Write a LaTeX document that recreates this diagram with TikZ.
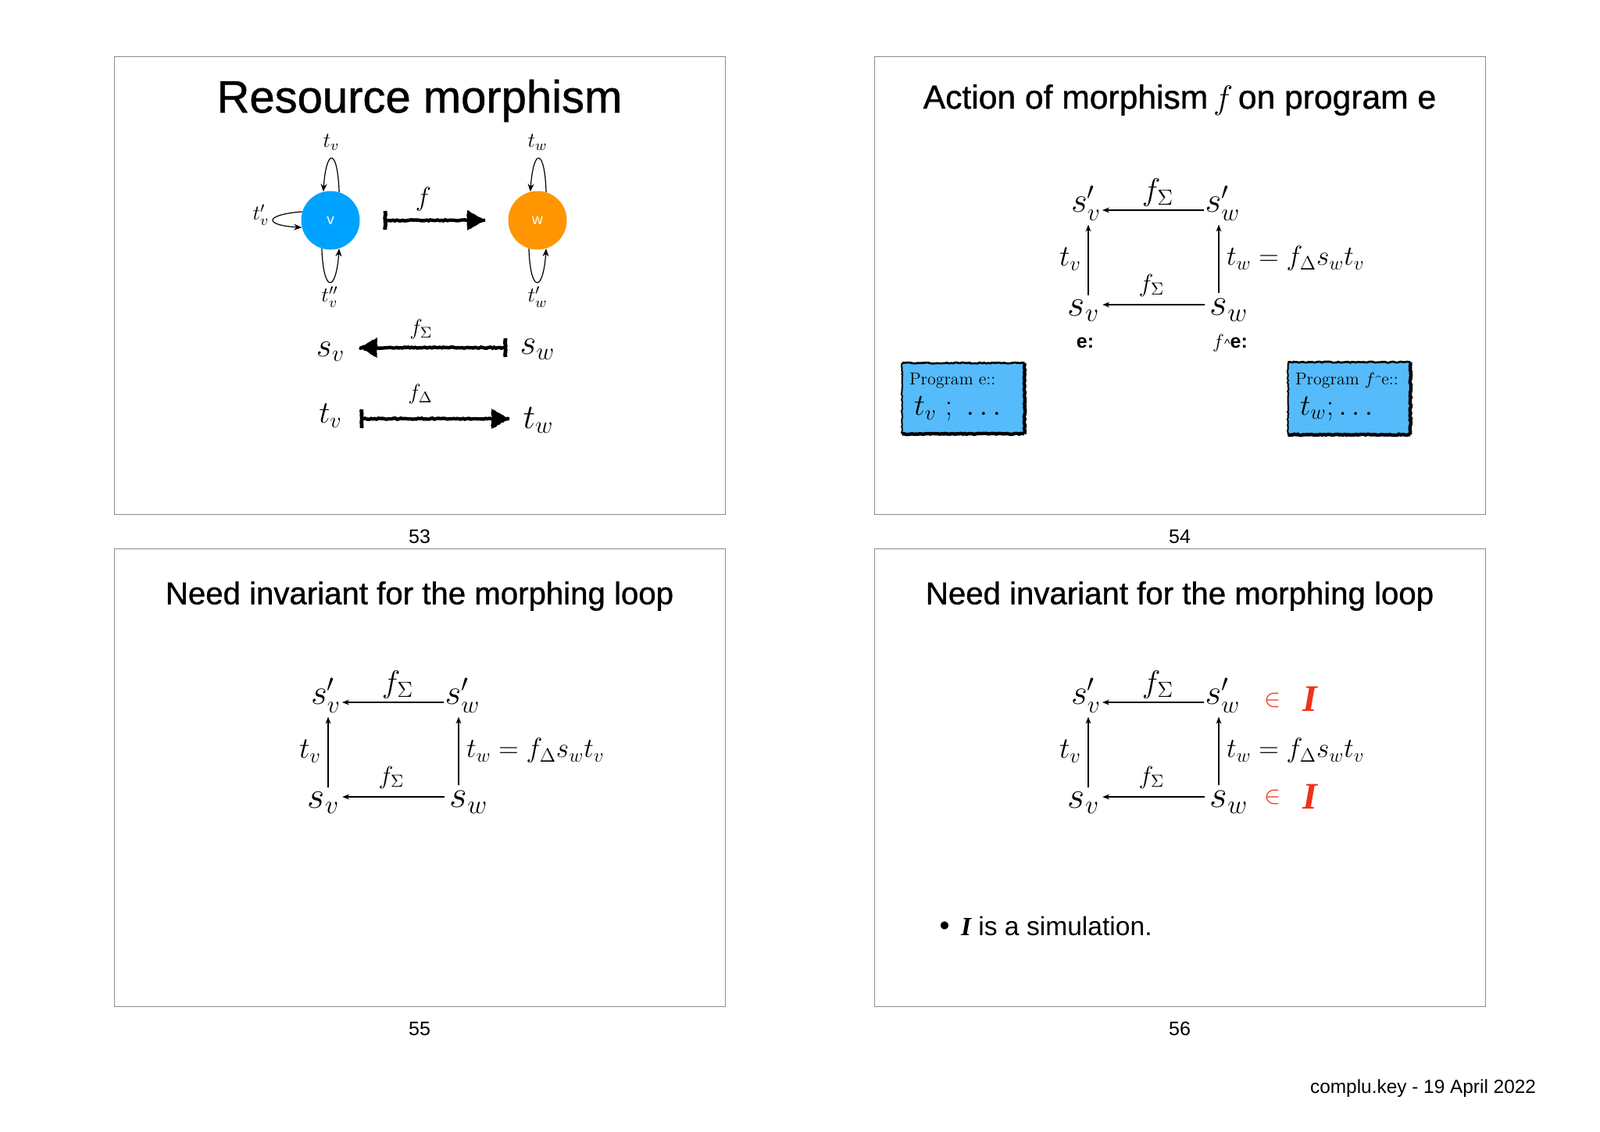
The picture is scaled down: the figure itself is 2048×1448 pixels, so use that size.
\RequirePackage{fix-cm}
\documentclass[tikz,border=0pt]{standalone}
\usepackage{amsmath}
\usepackage[no-math]{fontspec}
\newfontfamily\hv{Liberation Sans}
\newfontfamily\hvm[RawFeature={embolden=0.9}]{Liberation Sans}
\newfontfamily\bi{Liberation Serif}
\newcommand\bigI{{\bi\bfseries\itshape I}}
\usetikzlibrary{arrows.meta,calc,decorations.pathmorphing}
\definecolor{framegray}{HTML}{8C8C8C}
\definecolor{boxblue}{HTML}{55BBFB}
\definecolor{circblue}{HTML}{00A2FF}
\definecolor{circorange}{HTML}{FF9500}
\definecolor{redI}{HTML}{F0321A}
\newcommand\fz[1]{\fontsize{#1}{#1}\selectfont}
\tikzset{
  slide/.style={draw=framegray,line width=0.5pt},
  txt/.style={inner sep=0pt,outer sep=0pt},
  title/.style={txt,font=\hvm\fz{#1}},
  num/.style={txt,font=\hv\fz{12.5}},
  thinar/.style={-{Stealth[length=4.5pt,width=3.4pt]},line width=0.55pt},
  looparrow/.style={-{Stealth[length=5pt,width=4pt]},line width=0.6pt},
  rough/.style={decorate,decoration={random steps,segment length=1.2pt,amplitude=0.35pt},black},
}
\newcommand\roughar[3]{%
  \draw[rough,line width=2.2pt] (#1) -- (#2);
  \draw[rough,line width=2.4pt] ($(#1)+(0,-12)$) -- ($(#1)+(0,12)$);
  \fill[rough] (#2) -- ($(#2)+({-#3*23},-13)$) -- ($(#2)+({-#3*23},13)$) -- cycle;
}
% commutative square; #1 prefix, #2 dx, #3 dy
\newcommand\commsq[3]{%
\begin{scope}[shift={(#2,#3)}]
  \node[txt,font=\fz{22.5},anchor=center] (#1svp) at (1390,890) {$s'_v$};
  \node[txt,font=\fz{22.5},anchor=center] (#1swp) at (1565,890) {$s'_w$};
  \node[txt,font=\fz{24},anchor=center] (#1sv) at (1387,1028) {$s_v$};
  \node[txt,font=\fz{24.5},anchor=center] (#1sw) at (1573,1027) {$s_w$};
  \coordinate (#1lx) at (1393,0);
  \coordinate (#1rx) at (1560,0);
  \coordinate (#1ty) at (0,899);
  \coordinate (#1by) at (0,1020);
  \draw[thinar,shorten <=1pt,shorten >=1pt] (#1swp.west |- #1ty) -- (#1svp.east |- #1ty);
  \draw[thinar,shorten <=3.5pt,shorten >=2pt] (#1sw.west |- #1by) -- (#1sv.east |- #1by);
  \draw[thinar,shorten <=3pt,shorten >=2.5pt] (#1lx |- #1sv.north) -- (#1lx |- #1svp.south);
  \draw[thinar,shorten <=4pt,shorten >=2.5pt] (#1rx |- #1sw.north) -- (#1rx |- #1swp.south);
  \node[txt,font=\fz{20}] at (1482,876) {$f_\Sigma$};
  \node[txt,font=\fz{16}] at (1474,995) {$f_\Sigma$};
  \node[txt,font=\fz{19}] at (1370,962) {$t_v$};
  \node[txt,font=\fz{17.7},anchor=west] at (1570,961) {$t_w = f_\Delta s_w t_v$};
\end{scope}}
\begin{document}
\begin{tikzpicture}[x=0.5pt,y=-0.5pt]
\useasboundingbox (0,0) rectangle (2048,1448);
\fill[white] (0,0) rectangle (2048,1448);
% frames
\draw[slide] (146.5,72) rectangle (928.5,658.5);
\draw[slide] (1119.5,72) rectangle (1901.5,658.5);
\draw[slide] (146.5,702) rectangle (928.5,1288.5);
\draw[slide] (1119.5,702) rectangle (1901.5,1288.5);
% titles
\node[title=29] at (537,129) {Resource morphism};
\node[title=21.3] at (1510,128) {Action of morphism\hspace{-0.12em} $f$\hspace{-0.12em} on program e};
\node[title=20.1] at (537,763) {Need invariant for the morphing loop};
\node[title=20.1] at (1510,763) {Need invariant for the morphing loop};
% numbers
\node[num] at (537,687) {53};
\node[num] at (1510,687) {54};
\node[num] at (537,1317) {55};
\node[num] at (1510,1317) {56};
\node[txt,font=\hv\fz{12.2},anchor=east] at (1966,1393) {complu.key - 19 April 2022};
% slide 53
\node[circle,fill=circblue,minimum size=37.5pt,inner sep=0pt,text=white,font=\hv\fz{9.5}] (v) at (423,282) {v};
\node[circle,fill=circorange,minimum size=37.5pt,inner sep=0pt,text=white,font=\hv\fz{9.5}] (w) at (688,282) {w};
\foreach \n in {v,w}{
  \draw[looparrow] (\n.73) .. controls +(-2,-57) and +(4,-56) .. (\n.104);
  \draw[looparrow] (\n.253) .. controls +(2,57) and +(-4,57) .. (\n.287);
}
\draw[looparrow] (v.163) .. controls +(-49,4) and +(-49,-3) .. (v.194);
\node[txt,font=\fz{13.5}] at (424,182) {$t_v$};
\node[txt,font=\fz{13.5}] at (688,182) {$t_w$};
\node[txt,font=\fz{13.5}] at (334,275) {$t'_v$};
\node[txt,font=\fz{13.5}] at (422,380) {$t''_v$};
\node[txt,font=\fz{13.5}] at (688,380) {$t'_w$};
\node[txt,font=\fz{17}] at (542,255) {$f$};
\coordinate (fa) at (493,282); \coordinate (fb) at (621,282);
\roughar{fa}{fb}{1}
\node[txt,font=\fz{21.5}] (ssv) at (423,450) {$s_v$};
\node[txt,font=\fz{22.5}] (ssw) at (688,447) {$s_w$};
\coordinate (ga) at (647,445); \coordinate (gb) at (460,445);
\roughar{ga}{gb}{-1}
\node[txt,font=\fz{14}] at (539,421) {$f_\Sigma$};
\node[txt,font=\fz{20}] (ttv) at (423,532) {$t_v$};
\node[txt,font=\fz{22}] (ttw) at (689,538) {$t_w$};
\coordinate (ha) at (463,536); \coordinate (hb) at (652,536);
\roughar{ha}{hb}{1}
\node[txt,font=\fz{14}] at (538,504) {$f_\Delta$};
% slide 54
\commsq{a}{0}{-630}
\node[txt,font=\hv\bfseries\fz{12.5}] at (1389,439) {e:};
\node[txt,font=\hv\fz{12.5},anchor=west] at (1552,439) {$f$\hspace{0.2pt}{\fz{8}\textasciicircum}\textbf{e:}};
\node[fill=boxblue,minimum width=78pt,minimum height=45pt,inner sep=0pt] (pe) at (1233,510) {};
\node[fill=boxblue,minimum width=78pt,minimum height=46pt,inner sep=0pt] (pf) at (1727,510) {};
\foreach \n in {pe,pf}{
  \draw[rough,line width=1.3pt] (\n.north west) -- (\n.north east);
  \draw[rough,line width=2.2pt] (\n.north east) -- (\n.south east);
  \draw[rough,line width=2.2pt] (\n.south east) -- (\n.south west);
  \draw[rough,line width=1pt] (\n.south west) -- (\n.north west);
}
\node[txt,font=\fz{11},anchor=west] at (1164,487) {Program e::};
\node[txt,font=\fz{19.5},anchor=west] at (1170,523) {$t_v\;;\;\ldots$};
\node[txt,font=\fz{11},anchor=west] at (1658,487) {Program $f${\fz{7.5}\textasciicircum}e::};
\node[txt,font=\fz{19},anchor=west] at (1664,523) {$t_w;\ldots$};
% slide 55
\commsq{b}{-973}{0}
% slide 56
\commsq{c}{0}{0}
\node[txt,font=\fz{16},text=redI] at (1629,896) {$\in$};
\node[txt,font=\fz{16},text=redI] at (1629,1020) {$\in$};
\node[txt,font=\fz{24},text=redI] at (1677,895) {\bigI};
\node[txt,font=\fz{24},text=redI] at (1677,1020) {\bigI};
\node[txt,font=\fz{13}] at (1209,1186) {$\bullet$};
\node[txt,font=\hv\fz{16.8},anchor=west] at (1230,1185) {\bigI{} is a simulation.};
\end{tikzpicture}
\end{document}
